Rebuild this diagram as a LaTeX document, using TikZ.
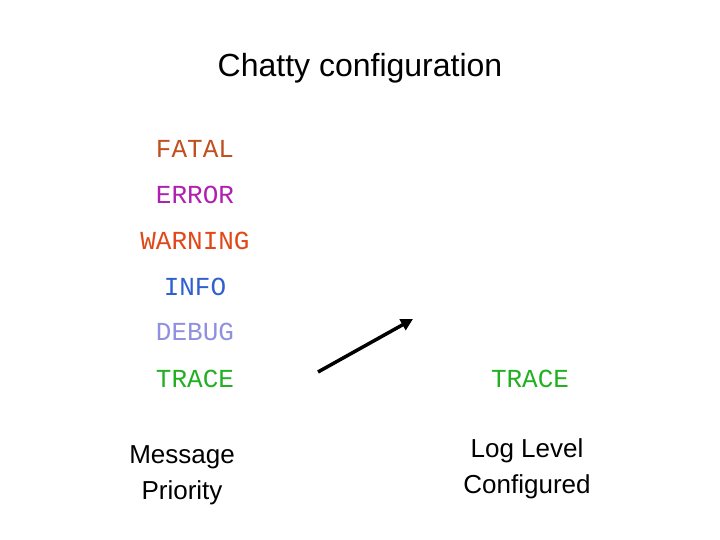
\documentclass[tikz,border=0pt]{standalone}
\usepackage{fontspec}
\setmainfont{Liberation Sans}
\newfontfamily\monof{Liberation Mono}
\usetikzlibrary{arrows.meta}
\definecolor{cfatal}{HTML}{C0501F}
\definecolor{cerror}{HTML}{B020B0}
\definecolor{cwarn}{HTML}{E04818}
\definecolor{cinfo}{HTML}{3060D0}
\definecolor{cdebug}{HTML}{9090E0}
\definecolor{ctrace}{HTML}{20B020}
\begin{document}
\begin{tikzpicture}[x=1pt,y=-1pt,
  lvl/.style={font=\monof\fontsize{26}{28}\selectfont,inner sep=0pt},
  lab/.style={font=\fontsize{26}{36}\selectfont,align=center,inner sep=0pt}]
\useasboundingbox (0,0) rectangle (720,540);
\node[font=\fontsize{32}{36}\selectfont] (title) at (360,68) {Chatty configuration};
\node[lvl,text=cfatal] (fatal) at (195,149) {FATAL};
\node[lvl,text=cerror] (error) at (195,195) {ERROR};
\node[lvl,text=cwarn] (warn) at (195,241) {WARNING};
\node[lvl,text=cinfo] (info) at (195,287) {INFO};
\node[lvl,text=cdebug] (debug) at (195,332) {DEBUG};
\node[lvl,text=ctrace] (trace) at (195,379) {TRACE};
\node[lvl,text=ctrace] (trace2) at (530,379) {TRACE};
\node[lab] (mp) at (182,475) {Message\\Priority};
\node[lab] (ll) at (527,469) {Log Level\\Configured};
\coordinate (a1) at (318,372);
\coordinate (a2) at (413,319);
\draw[line width=3.5pt,-{Triangle[length=12pt,width=12pt]}] (a1) -- (a2);
\end{tikzpicture}
\end{document}
